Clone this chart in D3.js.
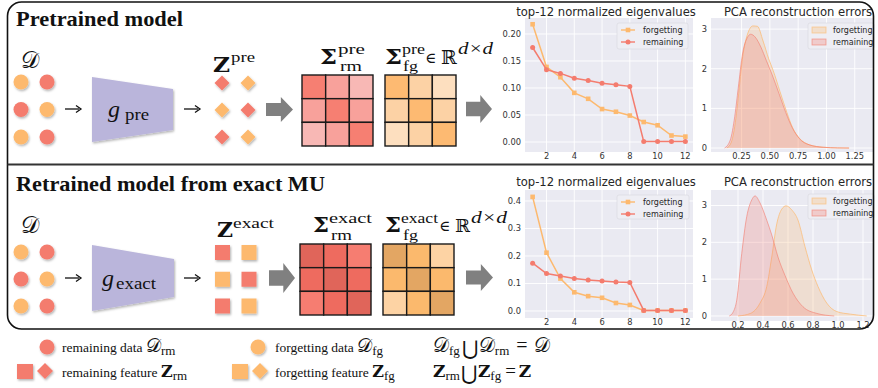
<!DOCTYPE html>
<html>
<head>
<meta charset="utf-8">
<script src="https://cdn.jsdelivr.net/npm/d3@7"></script>
<style>
body { margin: 0; background: #fff; }
</style>
</head>
<body>
<div id="container"></div>
<script>
// size
const W = 878, H = 388;
const RED = "#F47C6E", ORANGE = "#FDB96E";
const SERIF = "'Liberation Serif','Times New Roman','DejaVu Serif',serif";
const DSERIF = "'DejaVu Serif',serif";
const SANS = "'DejaVu Sans',sans-serif";

// eigenvalue data (top-12)
const eigIdx = [1, 2, 3, 4, 5, 6, 7, 8, 9, 10, 11, 12];
const eigPreFg = [0.218, 0.139, 0.120, 0.091, 0.080, 0.061, 0.056, 0.049, 0.037, 0.031, 0.012, 0.010];
const eigPreRm = [0.175, 0.134, 0.127, 0.118, 0.114, 0.109, 0.106, 0.103, 0.001, 0.001, 0.001, 0.001];
const eigExFg = [0.415, 0.212, 0.118, 0.068, 0.054, 0.048, 0.029, 0.022, 0.002, 0.002, 0.002, 0.002];
const eigExRm = [0.174, 0.136, 0.127, 0.118, 0.113, 0.109, 0.105, 0.104, 0.002, 0.002, 0.002, 0.002];
const eigXTicks = [2, 4, 6, 8, 10, 12];
const eigPreYTicks = [0, 0.05, 0.10, 0.15, 0.20];
const eigExYTicks = [0, 0.1, 0.2, 0.3, 0.4];

// PCA reconstruction error densities [error, density]
const kdePreFg = [[0.12,0],[0.16,0.15],[0.2,0.75],[0.22,1.25],[0.26,2.3],[0.3,2.85],[0.35,3.08],[0.39,3.07],[0.44,2.7],[0.49,2.25],[0.53,1.95],[0.59,1.42],[0.65,0.9],[0.7,0.52],[0.76,0.25],[0.85,0.08],[0.97,0.02],[1.1,0.003],[1.2,0]];
const kdePreRm = [[0.1,0],[0.15,0.2],[0.19,0.8],[0.22,1.5],[0.26,2.4],[0.3,2.78],[0.33,2.87],[0.37,2.8],[0.42,2.55],[0.47,2.2],[0.52,1.85],[0.58,1.38],[0.64,0.9],[0.7,0.5],[0.76,0.24],[0.85,0.08],[0.97,0.02],[1.1,0.003],[1.2,0]];
const kdeExFg = [[0.2,0],[0.3,0.07],[0.376,0.35],[0.43,0.8],[0.47,1.6],[0.51,2.5],[0.55,2.9],[0.584,2.99],[0.63,2.88],[0.68,2.6],[0.736,1.88],[0.79,1.25],[0.84,0.8],[0.91,0.35],[0.99,0.12],[1.1,0.05],[1.23,0]];
const kdeExRm = [[0.13,0],[0.16,0.1],[0.19,0.43],[0.23,1.7],[0.27,2.7],[0.31,3.15],[0.336,3.26],[0.376,3.07],[0.43,2.6],[0.47,2.2],[0.52,1.6],[0.576,1.1],[0.64,0.62],[0.72,0.25],[0.83,0.07],[0.97,0]];
const pcaPreXTicks = [0.25, 0.50, 0.75, 1.00, 1.25];
const pcaExXTicks = [0.2, 0.4, 0.6, 0.8, 1.0, 1.2];
const pcaYTicks = [0, 1, 2, 3];

// covariance matrices: level per cell, colour per level
const covLevels = [[2, 1, 0], [1, 2, 1], [0, 1, 2]];
const covPreRm = ["#F8B8B5", "#F8A19B", "#F67F72"];
const covPreFg = ["#FDDFBF", "#FCD2A5", "#FDBA72"];
const covExRm = ["#F67D71", "#EE6B5F", "#E0655A"];
const covExFg = ["#FDD3A4", "#FBB96D", "#E3A663"];

// which samples are remaining / forgetting (row-major, 3 rows x 2 cols)
const dataKinds = ["fg", "rm", "rm", "fg", "fg", "rm"];
const featKinds = ["rm", "fg", "fg", "rm", "rm", "fg"];
const kindColor = { rm: RED, fg: ORANGE };

const svg = d3.select("#container").append("svg")
  .attr("width", W).attr("height", H)
  .style("background", "#fff");

const defs = svg.append("defs");
defs.append("filter").attr("id", "sh").attr("x", "-50%").attr("y", "-50%").attr("width", "200%").attr("height", "200%")
  .append("feDropShadow").attr("dx", 1).attr("dy", 1.5).attr("stdDeviation", 1)
  .attr("flood-color", "#000").attr("flood-opacity", 0.3);

function txt(x, y, s, size, opts = {}) {
  const t = svg.append("text").attr("x", x).attr("y", y).text(s)
    .style("font-family", opts.family || SERIF)
    .style("font-size", size + "px")
    .style("fill", opts.fill || "#111");
  if (opts.bold) t.style("font-weight", "bold");
  if (opts.italic) t.style("font-style", "italic");
  if (opts.anchor) t.attr("text-anchor", opts.anchor);
  if (opts.len) t.attr("textLength", opts.len).attr("lengthAdjust", "spacingAndGlyphs");
  return t;
}

///dots and features
function drawGrid(x0, x1, y0, y1, kinds, shape, size) {
  const xs = d3.scalePoint().domain([0, 1]).range([x0, x1]);
  const ys = d3.scalePoint().domain([0, 1, 2]).range([y0, y1]);
  const g = svg.append("g");
  kinds.forEach((k, i) => {
    const cx = xs(i % 2), cy = ys(Math.floor(i / 2));
    let m;
    if (shape === "circle") {
      m = g.append("circle").attr("cx", cx).attr("cy", cy).attr("r", size);
    } else if (shape === "diamond") {
      m = g.append("path").attr("d", `M${cx},${cy - size}L${cx + size},${cy}L${cx},${cy + size}L${cx - size},${cy}Z`);
    } else {
      m = g.append("rect").attr("x", cx - size).attr("y", cy - size).attr("width", size * 2).attr("height", size * 2);
    }
    m.attr("fill", kindColor[k]).attr("filter", "url(#sh)");
  });
}

function smallArrow(x0, x1, y) {
  svg.append("line").attr("x1", x0).attr("x2", x1 - 2).attr("y1", y).attr("y2", y)
    .attr("stroke", "#111").attr("stroke-width", 1.3);
  svg.append("path").attr("d", `M${x1 - 5},${y - 3.5}L${x1},${y}L${x1 - 5},${y + 3.5}`)
    .attr("fill", "none").attr("stroke", "#111").attr("stroke-width", 1.3);
}

function bigArrow(x0, x1, y0, y1) {
  const cy = (y0 + y1) / 2, sh = (y1 - y0) * 0.26, hx = x0 + (x1 - x0) * 0.55;
  svg.append("path").attr("d",
    `M${x0},${cy - sh}L${hx},${cy - sh}L${hx},${y0}L${x1},${cy}L${hx},${y1}L${hx},${cy + sh}L${x0},${cy + sh}Z`)
    .attr("fill", "#808080");
}

function encoder(xl, xr, ylt, ylb, yrt, yrb) {
  svg.append("path").attr("d", `M${xl},${ylt}L${xr},${yrt}L${xr},${yrb}L${xl},${ylb}Z`)
    .attr("fill", "#BAB5DB").attr("filter", "url(#sh)");
}

function matrix(x0, y0, size, palette) {
  const b = d3.scaleBand().domain([0, 1, 2]).range([0, size]);
  const g = svg.append("g").attr("transform", `translate(${x0},${y0})`);
  covLevels.forEach((row, r) => row.forEach((lv, c) => {
    g.append("rect").attr("x", b(c)).attr("y", b(r))
      .attr("width", b.bandwidth()).attr("height", b.bandwidth())
      .attr("fill", palette[lv]).attr("stroke", "#1a1a1a").attr("stroke-width", 1.4);
  }));
}

///seaborn-like axes
function axesBox(cfg) {
  const g = svg.append("g");
  const x = d3.scaleLinear().domain(cfg.xDom).range([cfg.left, cfg.right]);
  const y = d3.scaleLinear().domain(cfg.yDom).range([cfg.bottom, cfg.top]);
  g.append("rect").attr("x", cfg.left).attr("y", cfg.top)
    .attr("width", cfg.right - cfg.left).attr("height", cfg.bottom - cfg.top)
    .attr("fill", "#EAEAF2");
  g.selectAll(".gx").data(cfg.xTicks).enter().append("line")
    .attr("x1", d => x(d)).attr("x2", d => x(d)).attr("y1", cfg.top).attr("y2", cfg.bottom)
    .attr("stroke", "#fff").attr("stroke-width", 0.9);
  g.selectAll(".gy").data(cfg.yTicks).enter().append("line")
    .attr("y1", d => y(d)).attr("y2", d => y(d)).attr("x1", cfg.left).attr("x2", cfg.right)
    .attr("stroke", "#fff").attr("stroke-width", 0.9);
  g.selectAll(".tx").data(cfg.xTicks).enter().append("text")
    .attr("x", d => x(d)).attr("y", cfg.bottom + 7).attr("text-anchor", "middle")
    .style("font-family", SANS).style("font-size", "8.3px").style("fill", "#333")
    .text(cfg.xFmt);
  g.selectAll(".ty").data(cfg.yTicks).enter().append("text")
    .attr("x", cfg.left - 4).attr("y", d => y(d) + 3).attr("text-anchor", "end")
    .style("font-family", SANS).style("font-size", "8.3px").style("fill", "#333")
    .text(cfg.yFmt);
  g.append("text").attr("x", cfg.titleX).attr("y", cfg.titleY).attr("text-anchor", "middle")
    .style("font-family", SANS).style("font-size", "11.6px").style("fill", "#262626")
    .text(cfg.title);
  return { g, x, y };
}

function eigenChart(cfg, fg, rm) {
  const { g, x, y } = axesBox(cfg);
  const line = d3.line().x((d, i) => x(eigIdx[i])).y(d => y(d));
  g.append("path").attr("d", line(fg)).attr("fill", "none").attr("stroke", ORANGE).attr("stroke-width", 1.5);
  g.selectAll(".mf").data(fg).enter().append("rect")
    .attr("x", (d, i) => x(eigIdx[i]) - 2.3).attr("y", d => y(d) - 2.3)
    .attr("width", 4.6).attr("height", 4.6).attr("fill", ORANGE);
  g.append("path").attr("d", line(rm)).attr("fill", "none").attr("stroke", RED).attr("stroke-width", 1.5);
  g.selectAll(".mr").data(rm).enter().append("circle")
    .attr("cx", (d, i) => x(eigIdx[i])).attr("cy", d => y(d)).attr("r", 2.5).attr("fill", RED);
  // legend
  const L = cfg.legend;
  g.append("rect").attr("x", L.x).attr("y", L.y).attr("width", L.w).attr("height", L.h).attr("rx", 2)
    .attr("fill", "#EEEEF4").attr("stroke", "#D6D6DE").attr("stroke-width", 0.6);
  [["forgetting", ORANGE, "sq"], ["remaining", RED, "ci"]].forEach((it, i) => {
    const yy = L.y + 7 + i * 12;
    g.append("line").attr("x1", L.x + 4).attr("x2", L.x + 18).attr("y1", yy).attr("y2", yy)
      .attr("stroke", it[1]).attr("stroke-width", 1.4);
    if (it[2] === "sq") g.append("rect").attr("x", L.x + 8.7).attr("y", yy - 2.3).attr("width", 4.6).attr("height", 4.6).attr("fill", it[1]);
    else g.append("circle").attr("cx", L.x + 11).attr("cy", yy).attr("r", 2.5).attr("fill", it[1]);
    g.append("text").attr("x", L.x + 26).attr("y", yy + 2.9)
      .style("font-family", SANS).style("font-size", "8px").style("fill", "#262626").text(it[0]);
  });
}

function pcaChart(cfg, fg, rm) {
  const { g, x, y } = axesBox(cfg);
  const area = d3.area().x(d => x(d[0])).y0(y(0)).y1(d => y(d[1])).curve(d3.curveMonotoneX);
  const ln = d3.line().x(d => x(d[0])).y(d => y(d[1])).curve(d3.curveMonotoneX);
  g.append("path").attr("d", area(fg)).attr("fill", ORANGE).attr("fill-opacity", 0.25);
  g.append("path").attr("d", ln(fg)).attr("fill", "none").attr("stroke", ORANGE).attr("stroke-opacity", 0.7).attr("stroke-width", 1);
  g.append("path").attr("d", area(rm)).attr("fill", RED).attr("fill-opacity", 0.25);
  g.append("path").attr("d", ln(rm)).attr("fill", "none").attr("stroke", RED).attr("stroke-opacity", 0.6).attr("stroke-width", 1);
  const L = cfg.legend;
  g.append("rect").attr("x", L.x).attr("y", L.y).attr("width", L.w).attr("height", L.h).attr("rx", 2)
    .attr("fill", "#EEEEF4").attr("stroke", "#D6D6DE").attr("stroke-width", 0.6);
  [["forgetting", ORANGE], ["remaining", RED]].forEach((it, i) => {
    const yy = L.y + 7 + i * 12;
    g.append("rect").attr("x", L.x + 4).attr("y", yy - 3).attr("width", 14).attr("height", 6)
      .attr("fill", it[1]).attr("fill-opacity", 0.3).attr("stroke", it[1]).attr("stroke-opacity", 0.7).attr("stroke-width", 0.8);
    g.append("text").attr("x", L.x + 25).attr("y", yy + 2.9)
      .style("font-family", SANS).style("font-size", "8px").style("fill", "#262626").text(it[0]);
  });
}

const f2 = d3.format(".2f"), f1 = d3.format(".1f"), f0 = d3.format("d");

///Top panel: pretrained model
txt(16, 26, "Pretrained model", 22, { bold: true, len: 167 });
txt(21, 68, "𝒟", 23);
drawGrid(21, 47, 82, 137, dataKinds, "circle", 7.5);
smallArrow(65, 81, 109);
encoder(92, 173, 77, 142, 89, 130);
txt(108, 117, "g", 24, { italic: true });
txt(125, 120, "pre", 16, { len: 24 });
smallArrow(184, 200, 109);
txt(213, 72, "Z", 21, { bold: true, family: DSERIF, len: 17 });
txt(231, 62, "pre", 15, { len: 24 });
drawGrid(222, 248, 83, 137, featKinds, "diamond", 7.5);
bigArrow(266, 293, 97, 122);
txt(320, 64, "Σ", 21, { bold: true, family: DSERIF, len: 17 });
txt(338, 54, "pre", 14, { len: 27 });
txt(340, 71, "rm", 14, { len: 22 });
matrix(302, 75, 71, covPreRm);
txt(385, 64, "Σ", 21, { bold: true, family: DSERIF, len: 17 });
txt(402, 54, "pre", 14, { len: 23 });
txt(403, 71, "fg", 14, { len: 15 });
txt(425, 63, "∈", 15);
txt(441, 64, "ℝ", 19, { family: DSERIF });
txt(458, 54, "d×d", 16, { italic: true, len: 35 });
matrix(385, 75, 71, covPreFg);
bigArrow(466, 492, 95, 123);

eigenChart({
  left: 525, right: 693, top: 18, bottom: 152,
  xDom: [0.45, 12.55], yDom: [-0.0185, 0.2296],
  xTicks: eigXTicks, yTicks: eigPreYTicks, xFmt: f0, yFmt: f2,
  title: "top-12 normalized eigenvalues", titleX: 606, titleY: 16,
  legend: { x: 617, y: 23, w: 71, h: 26 }
}, eigPreFg, eigPreRm);

pcaChart({
  left: 711, right: 874, top: 18, bottom: 152,
  xDom: [-0.02, 1.42], yDom: [-0.1, 3.28],
  xTicks: pcaPreXTicks, yTicks: pcaYTicks, xFmt: f2, yFmt: f0,
  title: "PCA reconstruction errors", titleX: 798, titleY: 16,
  legend: { x: 808, y: 23, w: 66, h: 26 }
}, kdePreFg, kdePreRm);

///Bottom panel: retrained model
txt(16, 191, "Retrained model from exact MU", 22, { bold: true, len: 309 });
txt(21, 233, "𝒟", 23);
drawGrid(21, 47, 252, 306, dataKinds, "circle", 7.5);
smallArrow(65, 81, 278);
encoder(92, 174, 245, 311, 259, 297);
txt(102, 286, "g", 24, { italic: true });
txt(116, 289, "exact", 16, { len: 40 });
smallArrow(184, 200, 278);
txt(217, 237, "Z", 21, { bold: true, family: DSERIF, len: 16 });
txt(233, 228, "exact", 15, { len: 41 });
drawGrid(222.5, 249, 252.5, 306, featKinds, "square", 7.5);
bigArrow(269, 295, 263, 293);
txt(313, 232, "Σ", 21, { bold: true, family: DSERIF, len: 16 });
txt(329, 223, "exact", 14, { len: 43 });
txt(331, 240, "rm", 14, { len: 21 });
matrix(300, 244, 71, covExRm);
txt(385, 232, "Σ", 21, { bold: true, family: DSERIF, len: 16 });
txt(401, 223, "exact", 14, { len: 37 });
txt(403, 240, "fg", 14, { len: 15 });
txt(439, 231, "∈", 15);
txt(455, 232, "ℝ", 18, { family: DSERIF });
txt(471, 223, "d×d", 16, { italic: true, len: 36 });
matrix(383, 244, 71, covExFg);
bigArrow(466, 493, 264, 291);

eigenChart({
  left: 525, right: 693, top: 190, bottom: 318,
  xDom: [0.45, 12.55], yDom: [-0.0255, 0.44],
  xTicks: eigXTicks, yTicks: eigExYTicks, xFmt: f0, yFmt: f1,
  title: "top-12 normalized eigenvalues", titleX: 606, titleY: 186,
  legend: { x: 617, y: 195, w: 72, h: 24 }
}, eigExFg, eigExRm);

pcaChart({
  left: 711, right: 874, top: 190, bottom: 321,
  xDom: [-0.016, 1.288], yDom: [-0.136, 3.42],
  xTicks: pcaExXTicks, yTicks: pcaYTicks, xFmt: f1, yFmt: f0,
  title: "PCA reconstruction errors", titleX: 798, titleY: 186,
  legend: { x: 808, y: 194, w: 66, h: 25 }
}, kdeExFg, kdeExRm);

///frame
svg.append("rect").attr("x", 7.5).attr("y", 2).attr("width", 866).attr("height", 327).attr("rx", 14)
  .attr("fill", "none").attr("stroke", "#111").attr("stroke-width", 1.6);
svg.append("line").attr("x1", 7.5).attr("x2", 873.5).attr("y1", 164.5).attr("y2", 164.5)
  .attr("stroke", "#333").attr("stroke-width", 2.2);

///Legend below
svg.append("circle").attr("cx", 47).attr("cy", 347).attr("r", 7.5).attr("fill", RED).attr("filter", "url(#sh)");
svg.append("circle").attr("cx", 258).attr("cy", 347).attr("r", 7.5).attr("fill", ORANGE).attr("filter", "url(#sh)");
svg.append("rect").attr("x", 17).attr("y", 364).attr("width", 16).attr("height", 15).attr("fill", RED).attr("filter", "url(#sh)");
svg.append("path").attr("d", "M45,363L53,371L45,379L37,371Z").attr("fill", RED).attr("filter", "url(#sh)");
svg.append("rect").attr("x", 232).attr("y", 364).attr("width", 16).attr("height", 15).attr("fill", ORANGE).attr("filter", "url(#sh)");
svg.append("path").attr("d", "M260,363L268,371L260,379L252,371Z").attr("fill", ORANGE).attr("filter", "url(#sh)");

function legendLine(x, y, label, sym, sub, bold) {
  const t = svg.append("text").attr("x", x).attr("y", y).style("font-family", SERIF).style("font-size", "13.5px").style("fill", "#111");
  t.append("tspan").text(label);
  const s = t.append("tspan").text(sym).style("font-size", "19px");
  if (bold) s.style("font-weight", "bold").style("font-family", DSERIF).style("font-size", "16px");
  t.append("tspan").text(sub).style("font-size", "13px").attr("dy", 3);
}
legendLine(62, 352, "remaining data ", "𝒟", "rm");
legendLine(275, 352, "forgetting data ", "𝒟", "fg");
legendLine(62, 377, "remaining feature ", "Z", "rm", true);
legendLine(275, 377, "forgetting feature ", "Z", "fg", true);

// set identities
svg.append("text").attr("x", 433).attr("y", 352).style("font-family", SERIF).style("font-size", "20px").style("fill", "#111")
  .call(t => {
    t.append("tspan").text("𝒟");
    t.append("tspan").text("fg").style("font-size", "13px").attr("dy", 3);
    t.append("tspan").text("⋃").style("font-size", "20px").attr("dy", 0).attr("dx", 2);
    t.append("tspan").text("𝒟").attr("dy", -3).attr("dx", 1);
    t.append("tspan").text("rm").style("font-size", "13px").attr("dy", 3);
    t.append("tspan").text("=").attr("dy", -3).attr("dx", 7);
    t.append("tspan").text("𝒟").attr("dx", 6);
  });
svg.append("text").attr("x", 433).attr("y", 377).style("font-family", SERIF).style("font-size", "19px").style("fill", "#111")
  .call(t => {
    t.append("tspan").text("Z").style("font-weight", "bold").style("font-family", DSERIF).style("font-size", "17px");
    t.append("tspan").text("rm").style("font-size", "13px").attr("dy", 3);
    t.append("tspan").text("⋃").style("font-size", "20px").attr("dx", 1);
    t.append("tspan").text("Z").style("font-weight", "bold").style("font-family", DSERIF).style("font-size", "17px").attr("dy", -3).attr("dx", 1);
    t.append("tspan").text("fg").style("font-size", "13px").attr("dy", 3);
    t.append("tspan").text("=").attr("dy", -3).attr("dx", 4);
    t.append("tspan").text("Z").style("font-weight", "bold").style("font-family", DSERIF).style("font-size", "17px").attr("dx", 3);
  });
</script>
</body>
</html>
